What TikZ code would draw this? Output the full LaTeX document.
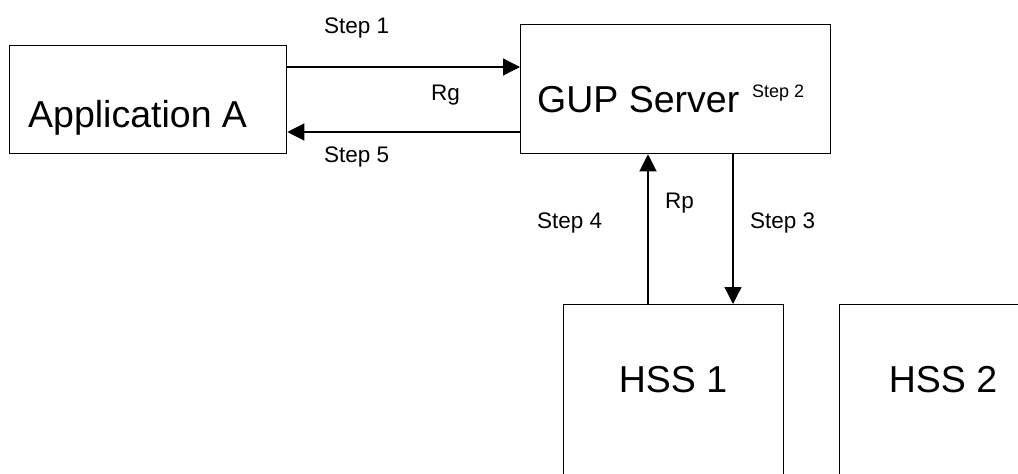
\documentclass[tikz,border=0pt]{standalone}
\usepackage{fontspec}
\setmainfont{Liberation Sans}
\usetikzlibrary{arrows.meta}
\begin{document}
\begin{tikzpicture}[x=1pt,y=1pt,
  box/.style={draw,line width=1.3pt,minimum width=#1,anchor=north west,inner sep=0pt},
  big/.style={font=\fontsize{37.5}{45}\selectfont,inner sep=0pt},
  small/.style={font=\fontsize{22.5}{27}\selectfont,inner sep=0pt,anchor=base west},
  tiny/.style={font=\fontsize{18}{22}\selectfont,inner sep=0pt,anchor=base west},
  conn/.style={line width=1.3pt,-{Triangle[length=17pt,width=17pt]}}]
\useasboundingbox (0,0) rectangle (1018,-474);
\clip (0,0) rectangle (1018,-474);
\node[box=277pt,minimum height=108pt] (app) at (9,-45) {};
\node[box=310pt,minimum height=129pt] (gup) at (520,-24) {};
\node[box=220pt,minimum height=220pt] (hss1) at (563,-304) {};
\node[box=210pt,minimum height=220pt] (hss2) at (839,-304) {};
\node[big,anchor=base west] (tapp) at (28,-127) {Application A};
\node[big,anchor=base west] (tgup) at (537,-112) {GUP Server};
\node[big,anchor=base] (thss1) at (673,-392) {HSS 1};
\node[big,anchor=base] (thss2) at (943,-392) {HSS 2};
\node[small] (s1) at (324,-33) {Step 1};
\node[small] (s5) at (324,-162) {Step 5};
\node[small] (rg) at (431,-100) {Rg};
\node[small] (rp) at (665,-208) {Rp};
\node[small] (s4) at (537,-228) {Step 4};
\node[small] (s3) at (750,-228) {Step 3};
\node[tiny] (s2) at (752,-97) {Step 2};
\coordinate (ya) at (0,-67);
\coordinate (yb) at (0,-132);
\coordinate (xa) at (648,0);
\coordinate (xb) at (733,0);
\draw[conn] (app.east |- ya) -- (gup.west |- ya);
\draw[conn] (gup.west |- yb) -- (app.east |- yb);
\draw[conn] (hss1.north -| xa) -- (gup.south -| xa);
\draw[conn] (gup.south -| xb) -- (hss1.north -| xb);
\end{tikzpicture}
\end{document}
